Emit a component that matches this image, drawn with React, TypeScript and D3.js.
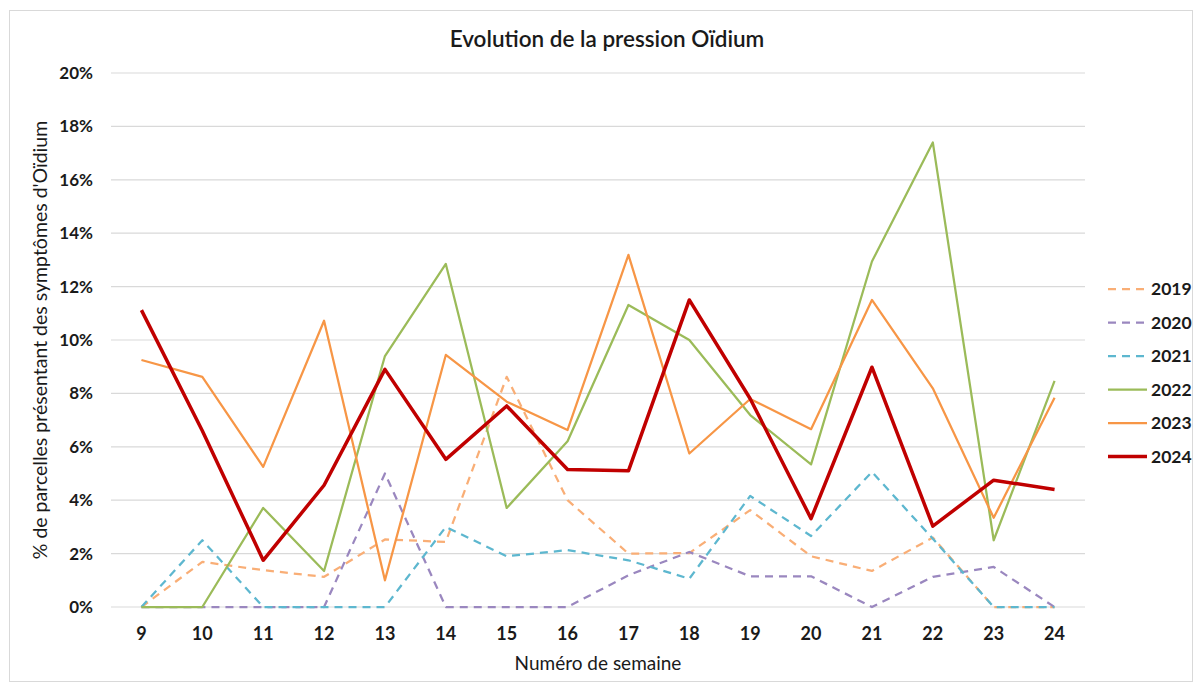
import React, { useEffect, useRef } from 'react';
import * as d3 from 'd3';

const weeks = [9, 10, 11, 12, 13, 14, 15, 16, 17, 18, 19, 20, 21, 22, 23, 24];

const s2019 = [0, 1.69, 1.38, 1.13, 2.53, 2.44, 8.62, 4.0, 2.0, 2.02, 3.63, 1.9, 1.35, 2.6, 0, 0];
const s2020 = [0, 0, 0, 0, 5.0, 0, 0, 0, 1.19, 2.06, 1.15, 1.15, 0, 1.13, 1.5, 0];
const s2021 = [0, 2.5, 0, 0, 0, 3.0, 1.9, 2.13, 1.75, 1.06, 4.16, 2.66, 5.06, 2.56, 0, 0];
const s2022 = [0, 0, 3.71, 1.35, 9.4, 12.85, 3.71, 6.21, 11.31, 10.0, 7.19, 5.34, 12.94, 17.4, 2.5, 8.47];
const s2023 = [9.25, 8.62, 5.25, 10.72, 1.0, 9.44, 7.69, 6.63, 13.19, 5.75, 7.79, 6.66, 11.5, 8.19, 3.34, 7.84];
const s2024 = [11.12, 6.6, 1.75, 4.56, 8.9, 5.53, 7.53, 5.15, 5.1, 11.5, 7.8, 3.31, 8.98, 3.03, 4.75, 4.4];

const yTicks = [0, 2, 4, 6, 8, 10, 12, 14, 16, 18, 20];

const series = [
  { name: '2019', values: s2019, color: '#F9AE76', width: 2.25, dash: '8,6' },
  { name: '2020', values: s2020, color: '#9A87BF', width: 2.25, dash: '8,6' },
  { name: '2021', values: s2021, color: '#5DB7CF', width: 2.25, dash: '8,6' },
  { name: '2022', values: s2022, color: '#9BBB59', width: 2.25, dash: null },
  { name: '2023', values: s2023, color: '#F79646', width: 2.25, dash: null },
  { name: '2024', values: s2024, color: '#C00000', width: 3.5, dash: null },
];

const App = () => {
  const svgRef = useRef(null);

  useEffect(() => {
    const width = 1195;
    const height = 684;
    const margin = { top: 73, right: 110, bottom: 77, left: 111 };
    const font = 'Lato, "Open Sans", sans-serif';

    const svg = d3.select(svgRef.current);
    svg.selectAll('*').remove();
    svg.attr('width', width).attr('height', height);

    // chart frame
    svg.append('rect')
      .attr('x', 9.5)
      .attr('y', 10.5)
      .attr('width', width - 12)
      .attr('height', height - 13)
      .attr('fill', 'white')
      .attr('stroke', '#d9d9d9');

    const x = d3.scaleBand()
      .domain(weeks.map(String))
      .range([margin.left, width - margin.right]);

    const y = d3.scaleLinear()
      .domain([0, 20])
      .range([height - margin.bottom, margin.top]);

    // gridlines
    svg.append('g')
      .selectAll('line')
      .data(yTicks)
      .join('line')
      .attr('x1', margin.left)
      .attr('x2', width - margin.right)
      .attr('y1', d => y(d))
      .attr('y2', d => y(d))
      .attr('stroke', '#d9d9d9')
      .attr('stroke-width', 1.2);

    // y tick labels
    svg.append('g')
      .selectAll('text')
      .data(yTicks)
      .join('text')
      .attr('x', 93)
      .attr('y', d => y(d))
      .attr('dy', '0.35em')
      .attr('text-anchor', 'end')
      .attr('font-family', font)
      .attr('font-weight', 'bold')
      .attr('font-size', 17)
      .attr('fill', '#1a1a1a')
      .text(d => `${d}%`);

    // x tick labels
    svg.append('g')
      .selectAll('text')
      .data(weeks)
      .join('text')
      .attr('x', d => x(String(d)) + x.bandwidth() / 2)
      .attr('y', 640)
      .attr('text-anchor', 'middle')
      .attr('font-family', font)
      .attr('font-weight', 'bold')
      .attr('font-size', 18)
      .attr('fill', '#1a1a1a')
      .text(d => d);

    // axis titles
    svg.append('text')
      .attr('x', 598)
      .attr('y', 670)
      .attr('text-anchor', 'middle')
      .attr('font-family', font)
      .attr('font-size', 19)
      .attr('fill', '#1a1a1a')
      .text('Numéro de semaine');

    svg.append('text')
      .attr('transform', 'rotate(-90)')
      .attr('x', -340)
      .attr('y', 47)
      .attr('text-anchor', 'middle')
      .attr('font-family', font)
      .attr('font-size', 19.5)
      .attr('fill', '#1a1a1a')
      .text("% de parcelles présentant des symptômes d'Oïdium");

    // title
    svg.append('text')
      .attr('x', 607)
      .attr('y', 47)
      .attr('text-anchor', 'middle')
      .attr('font-family', font)
      .attr('font-weight', 600)
      .attr('font-size', 22.5)
      .attr('fill', '#1a1a1a')
      .text('Evolution de la pression Oïdium');

    // lines
    const line = d3.line()
      .x((d, i) => x(String(weeks[i])) + x.bandwidth() / 2)
      .y(d => y(d));

    svg.append('g')
      .selectAll('path')
      .data(series)
      .join('path')
      .attr('d', d => line(d.values))
      .attr('fill', 'none')
      .attr('stroke', d => d.color)
      .attr('stroke-width', d => d.width)
      .attr('stroke-dasharray', d => d.dash)
      .attr('stroke-linejoin', 'round');

    // legend
    const legend = svg.append('g')
      .selectAll('g')
      .data(series)
      .join('g')
      .attr('transform', (d, i) => `translate(1108,${289 + i * 33.5})`);

    legend.append('line')
      .attr('x1', 0)
      .attr('x2', 39)
      .attr('stroke', d => d.color)
      .attr('stroke-width', d => d.width)
      .attr('stroke-dasharray', d => d.dash);

    legend.append('text')
      .attr('x', 43)
      .attr('dy', '0.35em')
      .attr('font-family', font)
      .attr('font-weight', 'bold')
      .attr('font-size', 17.5)
      .attr('fill', '#1a1a1a')
      .text(d => d.name);
  });

  return (
    <svg ref={svgRef} style={{ position: 'absolute', left: 0, top: 0 }}></svg>
  );
};

export default App;
